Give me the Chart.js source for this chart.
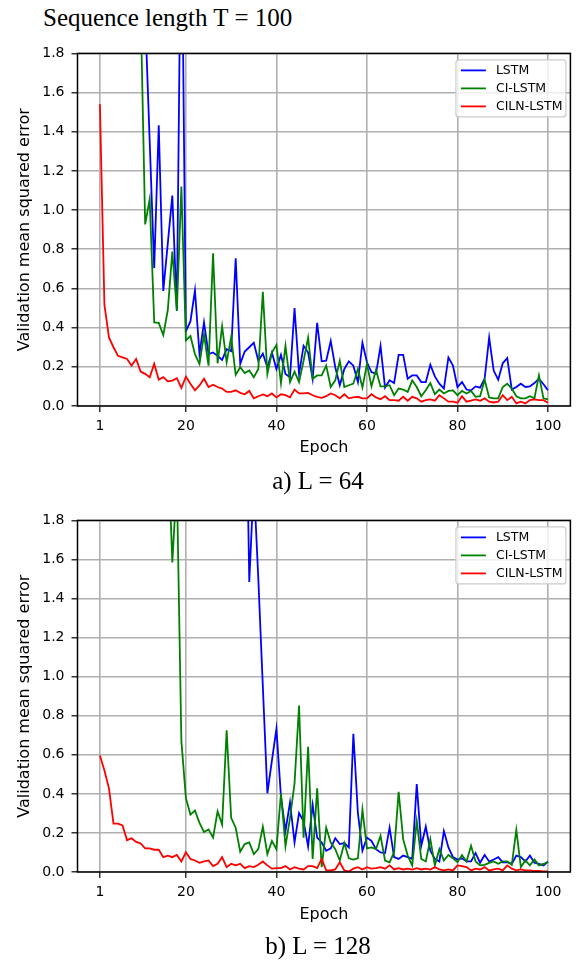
<!DOCTYPE html>
<html>
<head>
<meta charset="utf-8">
<script src="https://cdn.jsdelivr.net/npm/chart.js@4"></script>
<style>
  html, body { margin: 0; padding: 0; background: #fff; width: 577px; height: 961px; overflow: hidden; }
  body { position: relative; }
  .serif { position: absolute; font-family: "Liberation Serif", "Times New Roman", serif; font-size: 25px; line-height: 25px; color: #000; white-space: nowrap; }
  .panel { position: absolute; left: 0; width: 577px; height: 430px; }
</style>
</head>
<body>
<div class="serif" style="left:43px; top:5px;">Sequence length T = 100</div>
<div class="panel" style="top:38px;"><canvas id="c64" width="577" height="430"></canvas></div>
<div class="serif" style="left:218px; width:200px; text-align:center; top:468px;">a) L = 64</div>
<div class="panel" style="top:505px;"><canvas id="c128" width="577" height="430"></canvas></div>
<div class="serif" style="left:218px; width:200px; text-align:center; top:933px;">b) L = 128</div>

<script>
// Epoch indices and axis ticks
const EPOCHS = Array.from({ length: 100 }, (_, i) => i + 1);
const X_TICKS = [1, 20, 40, 60, 80, 100];
const Y_TICKS = [0, 0.2, 0.4, 0.6, 0.8, 1.0, 1.2, 1.4, 1.6, 1.8];
const SERIES_NAMES = ['LSTM', 'CI-LSTM', 'CILN-LSTM'];

// Validation MSE per epoch, L = 64
const LSTM_64 = [
  4.2, 3.8, 3.5, 3.2, 3.0, 2.8, 2.6, 2.5, 2.35, 2.2,
  2.0, 1.35, 0.704, 1.433, 0.587, 0.83, 1.074, 0.486, 2.7, 0.382,
  0.432, 0.59, 0.265, 0.427, 0.265, 0.273, 0.256, 0.235, 0.29, 0.28,
  0.754, 0.215, 0.278, 0.30, 0.323, 0.231, 0.268, 0.198, 0.273, 0.189,
  0.261, 0.164, 0.147, 0.50, 0.164, 0.307, 0.273, 0.139, 0.424, 0.228,
  0.231, 0.332, 0.198, 0.106, 0.189, 0.228, 0.206, 0.122, 0.323, 0.223,
  0.173, 0.164, 0.307, 0.094, 0.131, 0.117, 0.261, 0.261, 0.139, 0.156,
  0.156, 0.122, 0.122, 0.211, 0.151, 0.114, 0.089, 0.248, 0.206, 0.097,
  0.122, 0.084, 0.08, 0.10, 0.094, 0.139, 0.349, 0.181, 0.134, 0.218,
  0.245, 0.084, 0.097, 0.114, 0.097, 0.10, 0.117, 0.139, 0.111, 0.08
];
const CI_LSTM_64 = [
  3.9, 3.5, 3.2, 3.0, 2.8, 2.6, 2.5, 2.35, 2.2, 2.04,
  0.927, 1.056, 0.427, 0.424, 0.362, 0.49, 0.788, 0.486, 1.12, 0.335,
  0.357, 0.265, 0.215, 0.365, 0.206, 0.78, 0.218, 0.407, 0.223, 0.352,
  0.159, 0.198, 0.168, 0.181, 0.147, 0.189, 0.583, 0.164, 0.273, 0.312,
  0.117, 0.307, 0.122, 0.176, 0.122, 0.231, 0.349, 0.139, 0.156, 0.156,
  0.206, 0.097, 0.131, 0.231, 0.097, 0.106, 0.114, 0.189, 0.094, 0.215,
  0.10, 0.184, 0.10, 0.10, 0.106, 0.055, 0.089, 0.084, 0.072, 0.131,
  0.097, 0.05, 0.08, 0.117, 0.06, 0.084, 0.064, 0.077, 0.08, 0.055,
  0.077, 0.064, 0.077, 0.047, 0.05, 0.134, 0.044, 0.039, 0.039, 0.097,
  0.114, 0.089, 0.05, 0.039, 0.039, 0.05, 0.039, 0.156, 0.039, 0.034
];
const CILN_LSTM_64 = [
  1.54, 0.516, 0.35, 0.30, 0.256, 0.248, 0.24, 0.206, 0.24, 0.176,
  0.164, 0.147, 0.215, 0.134, 0.147, 0.126, 0.13, 0.142, 0.092, 0.15,
  0.114, 0.08, 0.105, 0.139, 0.097, 0.109, 0.097, 0.089, 0.072, 0.072,
  0.08, 0.067, 0.06, 0.077, 0.039, 0.05, 0.059, 0.05, 0.064, 0.044,
  0.06, 0.055, 0.044, 0.084, 0.064, 0.064, 0.067, 0.055, 0.047, 0.042,
  0.05, 0.064, 0.055, 0.039, 0.06, 0.039, 0.044, 0.047, 0.039, 0.039,
  0.06, 0.044, 0.034, 0.05, 0.03, 0.03, 0.027, 0.047, 0.027, 0.047,
  0.039, 0.022, 0.03, 0.034, 0.027, 0.055, 0.039, 0.022, 0.022, 0.017,
  0.05, 0.022, 0.027, 0.034, 0.027, 0.039, 0.022, 0.018, 0.022, 0.055,
  0.03, 0.047, 0.013, 0.022, 0.013, 0.03, 0.034, 0.03, 0.03, 0.017
];

// Validation MSE per epoch, L = 128
const LSTM_128 = [
  5.8, 5.5, 5.3, 5.0, 4.8, 4.6, 4.5, 4.3, 4.2, 4.0,
  3.9, 3.8, 3.7, 3.6, 3.5, 3.45, 3.4, 3.3, 3.25, 3.2,
  3.15, 3.1, 3.05, 3.0, 2.95, 2.9, 2.9, 2.85, 2.8, 2.8,
  2.75, 2.7, 2.9, 1.485, 2.0, 1.5, 0.95, 0.403, 0.57, 0.733,
  0.386, 0.21, 0.356, 0.151, 0.302, 0.26, 0.131, 0.344, 0.176, 0.151,
  0.109, 0.121, 0.173, 0.143, 0.148, 0.126, 0.708, 0.302, 0.109, 0.176,
  0.159, 0.117, 0.10, 0.097, 0.227, 0.076, 0.067, 0.084, 0.076, 0.067,
  0.45, 0.134, 0.232, 0.109, 0.067, 0.054, 0.21, 0.126, 0.076, 0.064,
  0.07, 0.054, 0.054, 0.097, 0.047, 0.087, 0.054, 0.064, 0.076, 0.05,
  0.05, 0.042, 0.084, 0.076, 0.054, 0.084, 0.047, 0.042, 0.034, 0.054
];
const CI_LSTM_128 = [
  3.6, 3.4, 3.2, 3.1, 3.0, 2.9, 2.8, 2.7, 2.65, 2.6,
  2.55, 2.5, 2.45, 2.4, 2.3, 2.22, 1.585, 2.0, 0.671, 0.378,
  0.294, 0.315, 0.252, 0.205, 0.218, 0.176, 0.31, 0.243, 0.725, 0.277,
  0.227, 0.104, 0.143, 0.151, 0.092, 0.117, 0.232, 0.092, 0.159, 0.117,
  0.403, 0.131, 0.277, 0.453, 0.852, 0.176, 0.641, 0.067, 0.428, 0.025,
  0.227, 0.151, 0.117, 0.059, 0.148, 0.07, 0.064, 0.07, 0.319, 0.121,
  0.126, 0.117, 0.185, 0.059, 0.05, 0.10, 0.411, 0.168, 0.084, 0.034,
  0.26, 0.067, 0.054, 0.168, 0.034, 0.117, 0.059, 0.087, 0.07, 0.05,
  0.087, 0.054, 0.134, 0.054, 0.034, 0.037, 0.047, 0.054, 0.042, 0.054,
  0.054, 0.037, 0.215, 0.025, 0.059, 0.034, 0.064, 0.034, 0.042, 0.05
];
const CILN_LSTM_128 = [
  0.596, 0.52, 0.428, 0.248, 0.248, 0.238, 0.163, 0.173, 0.154, 0.146,
  0.121, 0.121, 0.114, 0.114, 0.076, 0.084, 0.076, 0.087, 0.054, 0.101,
  0.067, 0.059, 0.047, 0.054, 0.059, 0.03, 0.042, 0.076, 0.025, 0.042,
  0.034, 0.042, 0.02, 0.03, 0.025, 0.037, 0.054, 0.034, 0.017, 0.02,
  0.02, 0.03, 0.013, 0.025, 0.017, 0.013, 0.03, 0.03, 0.02, 0.067,
  0.008, 0.008, 0.013, 0.05, 0.008, 0.003, 0.017, 0.025, 0.013, 0.025,
  0.017, 0.02, 0.025, 0.017, 0.034, 0.013, 0.02, 0.013, 0.017, 0.012,
  0.02, 0.013, 0.017, 0.012, 0.025, 0.013, 0.008, 0.013, 0.008, 0.034,
  0.03, 0.025, 0.008, 0.017, 0.013, 0.025, 0.008, 0.013, 0.017, 0.008,
  0.034, 0.017, 0.008, 0.013, 0.008, 0.008, 0.005, 0.005, 0.003, 0.003
];

const COLORS = ['#0000ff', '#008000', '#ff0000'];
const SANS = '"DejaVu Sans", "Liberation Sans", sans-serif';

// Black frame around the plotting area
const framePlugin = {
  id: 'frame',
  afterDatasetsDraw(chart) {
    const { ctx, chartArea: a } = chart;
    ctx.save();
    ctx.strokeStyle = '#000';
    ctx.lineWidth = 1.5;
    ctx.strokeRect(a.left, a.top, a.right - a.left, a.bottom - a.top);
    ctx.restore();
  }
};

// Legend box in the upper right corner of the plotting area
const insetLegend = {
  id: 'insetLegend',
  afterDraw(chart) {
    const { ctx, chartArea: a } = chart;
    const w = 110, h = 57;
    const x = a.right - 114.5, y = a.top + 6.5;
    ctx.save();
    ctx.beginPath();
    ctx.roundRect(x, y, w, h, 3);
    ctx.fillStyle = 'rgba(255,255,255,0.8)';
    ctx.fill();
    ctx.strokeStyle = '#cccccc';
    ctx.lineWidth = 1.2;
    ctx.stroke();
    ctx.font = '12.5px ' + SANS;
    ctx.textBaseline = 'middle';
    ctx.textAlign = 'left';
    chart.data.datasets.forEach((ds, i) => {
      const ry = y + 10.5 + i * 18;
      ctx.beginPath();
      ctx.moveTo(x + 5, ry);
      ctx.lineTo(x + 30, ry);
      ctx.strokeStyle = ds.borderColor;
      ctx.lineWidth = 1.8;
      ctx.stroke();
      ctx.fillStyle = '#000';
      ctx.fillText(ds.label, x + 40, ry);
    });
    ctx.restore();
  }
};

function makeChart(id, series, xAxisHeight) {
  const datasets = series.map((vals, i) => ({
    label: SERIES_NAMES[i],
    data: EPOCHS.map((e, k) => ({ x: e, y: vals[k] })),
    borderColor: COLORS[i],
    backgroundColor: COLORS[i],
    borderWidth: 1.8,
    pointRadius: 0,
    tension: 0,
    fill: false,
    order: 3 - i
  }));
  return new Chart(document.getElementById(id), {
    type: 'line',
    data: { datasets },
    plugins: [framePlugin, insetLegend],
    options: {
      responsive: false,
      animation: false,
      devicePixelRatio: 1,
      layout: { padding: { left: 0, right: 6.6, top: 10, bottom: 0 } },
      plugins: { legend: { display: false }, tooltip: { enabled: false } },
      scales: {
        x: {
          type: 'linear',
          min: -3.95,
          max: 104.95,
          afterBuildTicks: s => { s.ticks = X_TICKS.map(v => ({ value: v })); },
          afterFit: s => { s.height = xAxisHeight; },
          ticks: { autoSkip: false, maxRotation: 0, color: '#000', padding: 6, font: { family: SANS, size: 14 } },
          grid: { color: '#b0b0b0', lineWidth: 1.6, tickColor: '#000', tickLength: 6, tickWidth: 1.2 },
          border: { display: false },
          title: { display: true, text: 'Epoch', color: '#000', font: { family: SANS, size: 16 }, padding: { top: 0, bottom: 11 } }
        },
        y: {
          type: 'linear',
          min: 0,
          max: 1.8,
          afterBuildTicks: s => { s.ticks = Y_TICKS.map(v => ({ value: v })); },
          afterFit: s => { s.width = 77.5; },
          ticks: { color: '#000', padding: 7, font: { family: SANS, size: 14 }, callback: v => Number(v).toFixed(1) },
          grid: { color: '#b0b0b0', lineWidth: 1.6, tickColor: '#000', tickLength: 6, tickWidth: 1.2 },
          border: { display: false },
          title: { display: true, text: 'Validation mean squared error', color: '#000', font: { family: SANS, size: 16 }, padding: { top: 15.4, bottom: 0 } }
        }
      }
    }
  });
}

makeChart('c64', [LSTM_64, CI_LSTM_64, CILN_LSTM_64], 62);
makeChart('c128', [LSTM_128, CI_LSTM_128, CILN_LSTM_128], 63);
</script>
</body>
</html>
